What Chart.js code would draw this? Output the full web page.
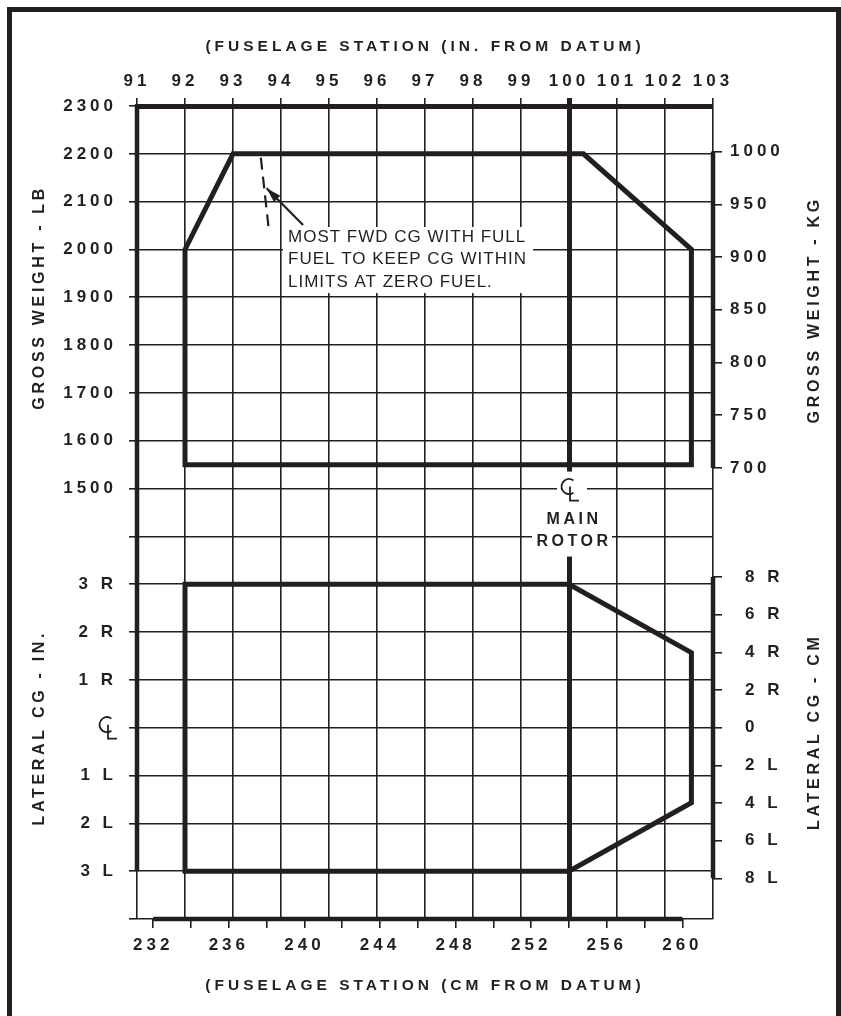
<!DOCTYPE html>
<html>
<head>
<meta charset="utf-8">
<script src="https://cdn.jsdelivr.net/npm/chart.js@4.4.1/dist/chart.umd.min.js"></script>
<style>
  body { margin: 0; background: #fff; }
  #frame { position: absolute; left: 7px; top: 7px; width: 834px; height: 1100px;
           border: 5px solid #231f20; border-bottom: none; box-sizing: border-box; }
  #c { position: absolute; left: 0; top: 0; }
</style>
</head>
<body>
<div id="frame"></div>
<canvas id="c" width="841" height="1016"></canvas>
<script>
// axis ticks
const stationTicks = [91, 92, 93, 94, 95, 96, 97, 98, 99, 100, 101, 102, 103];   // in. from datum
const cmTicks = [232, 234, 236, 238, 240, 242, 244, 246, 248, 250, 252, 254, 256, 258, 260];
const cmLabels = ['232', '', '236', '', '240', '', '244', '', '248', '', '252', '', '256', '', '260'];
const weightTicksLb = [1500, 1600, 1700, 1800, 1900, 2000, 2100, 2200, 2300];
const weightTicksKg = [700, 750, 800, 850, 900, 950, 1000];
const latTicksIn = [-3, -2, -1, 0, 1, 2, 3];
const latLabelsIn = ['3 L', '2 L', '1 L', '', '1 R', '2 R', '3 R'];
const latTicksCm = [-8, -6, -4, -2, 0, 2, 4, 6, 8];
const latLabelsCm = ['8 L', '6 L', '4 L', '2 L', '0', '2 R', '4 R', '6 R', '8 R'];

// longitudinal CG envelope (station in., gross weight lb)
const envStation = [92, 92, 93, 100.3, 102.55, 102.55, 92];
const envWeight = [1550, 2000, 2200, 2200, 2000, 1550, 1550];
// lateral CG envelope (station in., lateral CG in., + = right)
const latStation = [92, 100, 102.55, 102.55, 100, 92, 92];
const latCg = [3, 3, 1.57, -1.57, -3, -3, 3];
// most fwd CG with full fuel (dashed) and its pointer
const fuelStation = [93.58, 93.74];
const fuelWeight = [2192, 2047];
const arrowStation = [94.46, 93.70];
const arrowWeight = [2051, 2128];

const noteLines = ['MOST FWD CG WITH FULL', 'FUEL TO KEEP CG WITHIN', 'LIMITS AT ZERO FUEL.'];

const KG = 2.20462, CM = 2.54;
const lbMin = 600, lbMax = 2300;          // rows shared by both panels
const latMin = (lbMin - 1000) / 100, latMax = (lbMax - 1000) / 100;
const rotorStation = 100;

const ink = '#231f20';
Chart.defaults.font.family = "'Liberation Sans', Arial, sans-serif";
Chart.defaults.color = ink;
const tickFont = { size: 17, weight: 'bold' };
const titleFont = { size: 15.5, weight: 'bold' };

const pts = (xs, ys) => xs.map((x, i) => ({ x: x, y: ys[i] }));
const setTicks = arr => s => { s.ticks = arr.map(v => ({ value: v })); };

function drawCL(ctx, cx, cy) {
  ctx.save();
  ctx.strokeStyle = ink;
  ctx.lineWidth = 1.8;
  ctx.beginPath();
  ctx.arc(cx, cy, 7.5, 0.3 * Math.PI, 1.7 * Math.PI);
  ctx.stroke();
  ctx.beginPath();
  ctx.moveTo(cx + 1, cy);
  ctx.lineTo(cx + 1, cy + 14);
  ctx.lineTo(cx + 10, cy + 14);
  ctx.stroke();
  ctx.restore();
}

function vText(ctx, text, x, y) {
  ctx.save();
  ctx.translate(x, y);
  ctx.rotate(-Math.PI / 2);
  ctx.textAlign = 'center';
  ctx.textBaseline = 'middle';
  ctx.fillText(text, 0, 0);
  ctx.restore();
}

const overlay = {
  id: 'overlay',
  afterLayout(chart) {
    // the zero-width axes share the box of their partner so their labels are not clipped
    const s = chart.scales;
    s.yLat.left = s.yLb.left; s.yLat.width = s.yLat.right - s.yLat.left;
    s.yKg.right = s.yCm.right; s.yKg.width = s.yKg.right - s.yKg.left;
  },
  beforeDraw(chart) {
    chart.ctx.letterSpacing = '4px';
  },
  beforeDatasetsDraw(chart) {
    const { ctx, scales } = chart;
    const xr = scales.x2.getPixelForValue(rotorStation);
    const r15 = scales.yLb.getPixelForValue(1500);
    const r14 = scales.yLb.getPixelForValue(1400);
    ctx.save();
    ctx.fillStyle = '#fff';
    ctx.fillRect(283, 227, 250, 66);          // note box
    ctx.fillRect(xr - 7, r15 - 17, 14, 85);   // gap in rotor line
    ctx.fillRect(xr - 12, r15 - 13, 30, 29);  // CL
    ctx.fillRect(xr - 37, r14 - 29, 80, 44);  // MAIN ROTOR
    ctx.restore();
  },
  afterDraw(chart) {
    const { ctx, scales } = chart;
    const xr = scales.x2.getPixelForValue(rotorStation);
    const r15 = scales.yLb.getPixelForValue(1500);
    const r14 = scales.yLb.getPixelForValue(1400);
    ctx.save();
    ctx.fillStyle = ink;

    // note text
    ctx.letterSpacing = '1px';
    ctx.font = "17px 'Liberation Sans', Arial, sans-serif";
    ctx.textAlign = 'left';
    ctx.textBaseline = 'middle';
    noteLines.forEach((t, i) => ctx.fillText(t, 288, 237 + i * 22.5));

    // arrow head
    const tx = scales.x2.getPixelForValue(arrowStation[0]), ty = scales.yLb.getPixelForValue(arrowWeight[0]);
    const hx = scales.x2.getPixelForValue(arrowStation[1]), hy = scales.yLb.getPixelForValue(arrowWeight[1]);
    const a = Math.atan2(hy - ty, hx - tx);
    ctx.beginPath();
    ctx.moveTo(hx, hy);
    ctx.lineTo(hx - 15 * Math.cos(a) + 4.5 * Math.sin(a), hy - 15 * Math.sin(a) - 4.5 * Math.cos(a));
    ctx.lineTo(hx - 15 * Math.cos(a) - 4.5 * Math.sin(a), hy - 15 * Math.sin(a) + 4.5 * Math.cos(a));
    ctx.closePath();
    ctx.fill();

    // main rotor label
    ctx.letterSpacing = '3.5px';
    ctx.font = "bold 16px 'Liberation Sans', Arial, sans-serif";
    ctx.textAlign = 'center';
    ctx.fillText('MAIN', xr + 5, r15 + 31);
    ctx.fillText('ROTOR', xr + 5, r14 + 5);
    drawCL(ctx, xr, r15 - 2);
    drawCL(ctx, 107, scales.yLat.getPixelForValue(0) - 3);

    // side titles
    ctx.letterSpacing = '3.7px';
    vText(ctx, 'GROSS WEIGHT - LB', 40, scales.yLb.getPixelForValue(1900));
    vText(ctx, 'LATERAL CG - IN.', 40, scales.yLat.getPixelForValue(0));
    vText(ctx, 'GROSS WEIGHT - KG', 815, scales.yKg.getPixelForValue(850));
    vText(ctx, 'LATERAL CG - CM', 815, scales.yLat.getPixelForValue(0) + 4);
    ctx.restore();
  }
};

const line = (data, x, y, extra) => Object.assign({
  data: data, xAxisID: x, yAxisID: y, showLine: true, pointRadius: 0,
  borderColor: ink, borderWidth: 5, borderJoinStyle: 'miter', borderCapStyle: 'square',
  clip: false, tension: 0
}, extra || {});

new Chart(document.getElementById('c'), {
  type: 'scatter',
  data: {
    datasets: [
      line(pts(envStation, envWeight), 'x2', 'yLb'),
      line(pts(latStation, latCg), 'x2', 'yLat'),
      line(pts(fuelStation, fuelWeight), 'x2', 'yLb', { borderWidth: 2.2, borderDash: [12, 7], borderCapStyle: 'butt' }),
      line(pts(arrowStation, arrowWeight), 'x2', 'yLb', { borderWidth: 2.2, borderCapStyle: 'butt' }),
      line(pts([stationTicks[0], stationTicks[0]], [latMax, latTicksIn[0]]), 'x2', 'yLat', { borderWidth: 4.5, borderCapStyle: 'butt' }),
      line(pts([stationTicks[12], stationTicks[12]], [weightTicksKg[0], weightTicksKg[6]]), 'x2', 'yKg', { borderWidth: 4.5, borderCapStyle: 'butt' }),
      line(pts([stationTicks[12], stationTicks[12]], [latTicksCm[0], latTicksCm[8]]), 'x2', 'yCm', { borderWidth: 4.5, borderCapStyle: 'butt' }),
      line(pts([cmTicks[0], cmTicks[14]], [latMin, latMin]), 'x', 'yLat', { borderWidth: 4.5, borderCapStyle: 'butt' })
    ]
  },
  options: {
    responsive: false,
    devicePixelRatio: 1,
    animation: false,
    events: [],
    layout: { padding: 0 },
    plugins: { legend: { display: false }, tooltip: { enabled: false } },
    scales: {
      x2: {
        type: 'linear', position: 'top', min: 91, max: 103,
        afterBuildTicks: setTicks(stationTicks),
        afterFit: s => { s.height = 106; },
        grid: {
          color: ink, tickColor: ink, tickLength: 8,
          lineWidth: c => (c.tick && c.tick.value === rotorStation ? 5 : 1.6),
          tickWidth: c => (c.tick && c.tick.value === rotorStation ? 5 : 1.6)
        },
        border: { display: true, color: ink, width: 5 },
        ticks: { font: tickFont, color: ink, padding: 6, autoSkip: false, maxRotation: 0, callback: v => String(v) },
        title: { display: true, text: '(FUSELAGE STATION (IN. FROM DATUM)', font: titleFont, color: ink, padding: { top: 37, bottom: 0 } }
      },
      x: {
        type: 'linear', position: 'bottom', min: 91 * CM, max: 103 * CM,
        afterBuildTicks: setTicks(cmTicks),
        afterFit: s => { s.height = 97; },
        grid: { drawOnChartArea: false, color: ink, tickColor: ink, tickLength: 9, lineWidth: 1.6 },
        border: { display: false },
        ticks: { font: tickFont, color: ink, padding: 7, autoSkip: false, maxRotation: 0, callback: (v, i) => cmLabels[i] },
        title: { display: true, text: '(FUSELAGE STATION (CM FROM DATUM)', font: titleFont, color: ink, padding: { top: 0, bottom: 21 } }
      },
      yLat: {
        type: 'linear', position: 'left', weight: 0, min: latMin, max: latMax,
        afterBuildTicks: setTicks(latTicksIn),
        afterFit: s => { s.width = 0; },
        grid: { drawOnChartArea: false, color: 'rgba(0,0,0,0)', tickLength: 8 },
        border: { display: false },
        ticks: { font: tickFont, color: ink, padding: 12, autoSkip: false, callback: (v, i) => latLabelsIn[i] }
      },
      yLb: {
        type: 'linear', position: 'left', weight: 1, min: lbMin, max: lbMax,
        ticks: { stepSize: 100, font: tickFont, color: ink, padding: 12, autoSkip: false,
                 callback: v => (weightTicksLb.includes(v) ? String(v) : '') },
        afterFit: s => { s.width = 137; },
        grid: { color: ink, tickColor: ink, tickLength: 8, lineWidth: 1.6 },
        border: { display: false }
      },
      yKg: {
        type: 'linear', position: 'right', weight: 0, min: lbMin / KG, max: lbMax / KG,
        afterBuildTicks: setTicks(weightTicksKg),
        afterFit: s => { s.width = 0; },
        grid: { drawOnChartArea: false, color: ink, tickColor: ink, tickLength: 9, lineWidth: 1.6 },
        border: { display: false },
        ticks: { font: tickFont, color: ink, padding: 8, autoSkip: false, callback: v => String(v) }
      },
      yCm: {
        type: 'linear', position: 'right', weight: 1, min: latMin * CM, max: latMax * CM,
        afterBuildTicks: setTicks(latTicksCm),
        afterFit: s => { s.width = 128; },
        grid: { drawOnChartArea: false, color: ink, tickColor: ink, tickLength: 9, lineWidth: 1.6 },
        border: { display: false },
        ticks: { font: tickFont, color: ink, padding: 23, autoSkip: false, callback: (v, i) => latLabelsCm[i] }
      }
    }
  },
  plugins: [overlay]
});
</script>
</body>
</html>
